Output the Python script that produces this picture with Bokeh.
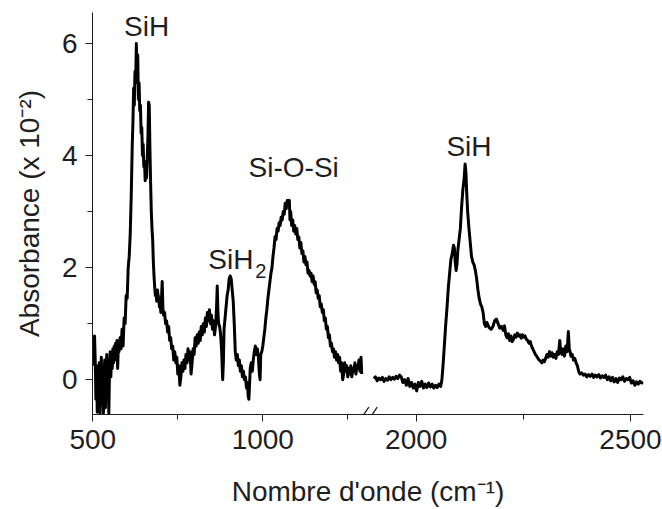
from bokeh.plotting import figure
from bokeh.models import Range1d, FixedTicker, Label, PolyAnnotation
from bokeh.embed import file_html
from bokeh.resources import INLINE

# ---------------- data ----------------
left_wn = [503, 505, 507, 509, 511, 513, 515, 517, 519, 521, 523, 525, 527, 529, 531, 533, 535, 537, 539, 541,
           543, 545, 547, 549, 551, 553, 555, 557, 559, 561, 563, 565, 567, 569, 571, 573, 575, 577, 580, 583,
           586, 589, 592, 595, 598, 601, 604, 607, 610, 613, 616, 618, 620, 622, 624, 626, 628, 630, 632, 634,
           636, 638, 640, 642, 644, 646, 648, 650, 652, 654, 656, 658, 660, 662, 664, 666, 668, 670, 672, 674,
           676, 678, 680, 682, 684, 686, 688, 690, 692, 694, 696, 698, 700, 702, 704, 706, 708, 711, 714, 717,
           720, 723, 726, 729, 732, 735, 738, 741, 744, 747, 750, 753, 756, 759, 762, 765, 768, 771, 774, 777,
           780, 783, 786, 789, 792, 795, 798, 801, 804, 807, 810, 813, 816, 819, 822, 825, 828, 831, 834, 837,
           840, 843, 846, 849, 852, 855, 858, 861, 864, 866, 868, 870, 873, 876, 879, 882, 884, 886, 889, 892,
           895, 898, 901, 904, 907, 910, 913, 916, 919, 922, 925, 928, 931, 934, 937, 940, 943, 946, 949, 952,
           955, 957, 959, 961, 963, 966, 969, 972, 975, 978, 981, 984, 987, 990, 992, 994, 997, 1000, 1003, 1006,
           1009, 1012, 1015, 1018, 1021, 1024, 1027, 1030, 1033, 1036, 1039, 1042, 1045, 1048, 1051, 1054, 1057, 1060, 1063, 1066,
           1069, 1072, 1075, 1078, 1080, 1082, 1085, 1088, 1091, 1094, 1097, 1100, 1103, 1106, 1109, 1112, 1115, 1118, 1121, 1124,
           1127, 1130, 1133, 1136, 1139, 1142, 1145, 1148, 1151, 1154, 1157, 1160, 1163, 1166, 1169, 1172, 1175, 1178, 1181, 1184,
           1187, 1190, 1193, 1196, 1199, 1202, 1205, 1208, 1211, 1214, 1217, 1220, 1223, 1226, 1229, 1232, 1235, 1238, 1241, 1244,
           1247, 1250, 1253, 1256, 1259, 1262, 1265, 1268, 1271, 1274, 1277, 1280, 1283, 1286, 1289, 1291]
left_abs = [0.25, 0.78, 0.35, -0.35, 0.15, -0.58, 0.25, -0.3, 0.3, -0.6, 0.05, 0.4, -0.45, 0.2, -0.6, 0.1, 0.35, -0.5, 0.05, 0.45,
            -0.15, 0.3, -0.6, 0.15, 0.5, 0.05, 0.45, 0.2, 0.55, 0.3, 0.6, 0.35, 0.65, 0.45, 0.7, 0.2, 0.6, 0.5, 0.75, 0.55,
            0.9, 0.6, 1.1, 1.0, 1.5, 1.45, 2.0, 2.2, 2.6, 3.3, 4.2, 4.6, 5.2, 4.9, 5.5, 5.3, 6.0, 5.4, 5.8, 5.0,
            5.3, 4.8, 4.9, 4.4, 4.5, 4.0, 4.2, 3.8, 3.9, 3.55, 3.8, 3.6, 3.95, 4.3, 4.95, 4.9, 4.1, 3.5, 3.0, 2.7,
            2.5, 2.1, 1.85, 1.65, 1.5, 1.55, 1.4, 1.6, 1.5, 1.45, 1.3, 1.35, 1.2, 1.45, 1.75, 1.3, 1.15, 1.2, 1.0, 1.05,
            0.85, 0.95, 0.7, 0.75, 0.55, 0.6, 0.35, 0.5, 0.3, 0.4, 0.1, 0.25, -0.1, 0.05, 0.3, 0.15, 0.35, 0.2, 0.45, 0.3,
            0.55, 0.35, 0.5, 0.1, 0.3, 0.55, 0.45, 0.75, 0.6, 0.8, 0.65, 0.85, 0.7, 0.95, 0.8, 1.0, 0.85, 1.1, 0.95, 1.2,
            1.05, 1.25, 1.0, 1.15, 0.9, 1.05, 0.8, 0.95, 1.3, 1.67, 1.2, 1.0, 0.95, 0.8, 0.5, 0.0, 0.3, 0.9, 1.1, 1.3,
            1.5, 1.6, 1.8, 1.85, 1.8, 1.6, 1.4, 1.0, 0.5, 0.35, 0.45, 0.25, 0.35, 0.15, 0.25, 0.05, 0.15, 0.0, 0.05, -0.15,
            -0.05, -0.3, -0.35, -0.1, 0.2, 0.3, 0.15, 0.35, 0.5, 0.6, 0.45, 0.55, 0.4, 0.1, 0.0, 0.45, 0.5, 0.6, 0.75, 0.9,
            1.1, 1.25, 1.45, 1.6, 1.75, 1.9, 2.0, 2.2, 2.35, 2.55, 2.5, 2.7, 2.65, 2.8, 2.75, 2.9, 2.85, 3.0, 2.95, 3.15,
            3.05, 3.2, 3.15, 3.2, 2.85, 3.0, 2.75, 2.85, 2.65, 2.75, 2.6, 2.7, 2.5, 2.55, 2.35, 2.45, 2.25, 2.3, 2.1, 2.2,
            2.05, 2.1, 1.9, 1.95, 1.85, 1.9, 1.75, 1.85, 1.7, 1.75, 1.55, 1.6, 1.45, 1.5, 1.3, 1.35, 1.2, 1.25, 1.05, 1.1,
            0.9, 0.95, 0.75, 0.8, 0.6, 0.65, 0.5, 0.55, 0.4, 0.5, 0.35, 0.45, 0.3, 0.4, 0.15, 0.3, 0.0, 0.1, 0.3, 0.15,
            0.25, 0.05, 0.2, 0.1, 0.25, 0.05, 0.2, 0.15, 0.3, 0.1, 0.25, 0.2, 0.35, 0.15, 0.4, 0.1]

right_wn = [1901, 1905, 1909, 1913, 1917, 1921, 1925, 1929, 1933, 1937, 1941, 1945, 1949, 1953, 1957, 1961, 1965, 1969, 1973, 1977,
            1981, 1985, 1989, 1993, 1997, 2001, 2005, 2009, 2013, 2017, 2021, 2025, 2029, 2033, 2037, 2041, 2045, 2049, 2053, 2057,
            2060, 2063, 2066, 2069, 2072, 2075, 2078, 2081, 2084, 2087, 2089, 2091, 2093, 2095, 2097, 2100, 2103, 2106, 2109, 2112,
            2114, 2116, 2118, 2120, 2123, 2126, 2129, 2132, 2135, 2138, 2141, 2144, 2147, 2150, 2153, 2156, 2159, 2162, 2165, 2170,
            2175, 2179, 2183, 2187, 2191, 2195, 2199, 2203, 2206, 2209, 2212, 2215, 2218, 2221, 2224, 2227, 2230, 2233, 2236, 2239,
            2242, 2245, 2248, 2251, 2254, 2257, 2260, 2263, 2266, 2269, 2272, 2275, 2278, 2281, 2284, 2287, 2290, 2293, 2296, 2299,
            2302, 2305, 2308, 2311, 2314, 2317, 2320, 2323, 2326, 2329, 2332, 2335, 2337, 2340, 2343, 2346, 2349, 2352, 2355, 2357,
            2359, 2361, 2364, 2367, 2370, 2373, 2376, 2379, 2382, 2386, 2390, 2394, 2398, 2402, 2406, 2410, 2414, 2418, 2422, 2426,
            2430, 2434, 2438, 2442, 2446, 2450, 2454, 2458, 2462, 2466, 2470, 2474, 2478, 2482, 2486, 2490, 2494, 2498, 2502, 2506,
            2510, 2514, 2518, 2522, 2526, 2529]
right_abs = [0.02, 0.05, -0.02, 0.03, 0.0, 0.04, -0.03, 0.02, -0.01, 0.05, 0.0, 0.04, 0.01, 0.06, 0.02, 0.08, 0.05, -0.05, 0.0, -0.1,
             0.02, -0.12, -0.05, -0.15, -0.08, -0.2, -0.05, -0.12, -0.03, -0.15, -0.08, -0.14, -0.06, -0.13, -0.08, -0.15, -0.1, -0.14, -0.08, -0.12,
             0.0, 0.3, 0.65, 1.0, 1.3, 1.65, 1.9, 2.15, 2.25, 2.4, 2.35, 2.1, 1.95, 2.05, 2.3, 2.5, 2.7, 3.1, 3.4, 3.6,
             3.85, 3.7, 3.3, 3.0, 2.7, 2.45, 2.2, 2.1, 2.05, 1.95, 1.8, 1.6, 1.45, 1.35, 1.3, 1.2, 1.0, 0.95, 1.02, 0.93,
             0.9, 0.95, 1.05, 1.08, 1.0, 0.92, 0.95, 0.88, 0.96, 0.8, 0.75, 0.82, 0.7, 0.78, 0.68, 0.72, 0.8, 0.76, 0.83, 0.78,
             0.8, 0.74, 0.8, 0.76, 0.78, 0.72, 0.7, 0.65, 0.68, 0.6, 0.55, 0.5, 0.45, 0.42, 0.38, 0.35, 0.33, 0.3, 0.35, 0.32,
             0.38, 0.45, 0.4, 0.5, 0.42, 0.48, 0.4, 0.45, 0.38, 0.5, 0.45, 0.7, 0.5, 0.45, 0.55, 0.42, 0.6, 0.5, 0.86, 0.55,
             0.5, 0.42, 0.45, 0.35, 0.38, 0.3, 0.25, 0.15, 0.1, 0.12, 0.08, 0.1, 0.05, 0.09, 0.06, 0.1, 0.04, 0.08, 0.05, 0.09,
             0.03, 0.07, 0.04, 0.08, 0.0, 0.05, -0.02, 0.04, -0.04, 0.02, -0.05, 0.03, 0.0, 0.05, -0.03, 0.02, 0.0, 0.04, -0.06, -0.02,
             -0.1, -0.04, -0.08, -0.03, -0.06, -0.04]

x_major_left = [500, 1000]
x_minor_left = [750, 1250]
x_major_right = [2000, 2500]
x_minor_right = [2250]
y_major = [0, 2, 4, 6]
y_minor = [1, 3, 5]

peak_text = ["SiH", "SiH", "Si-O-Si", "SiH"]
peak_wn = [658, 906, 1091, 2123]
peak_abs = [6.30, 2.15, 3.78, 4.16]
peak_segment = ["left", "left", "left", "right"]
sub_text = "2"
sub_wn = 978
sub_abs = 1.94

# ---------------- layout ----------------
FONT = "Liberation Sans"
INK = "#1e1e1e"
LEFT_RANGE = (499.0, 2120.0)       # main (left segment) scale across frame
RIGHT_RANGE = (1244.7, 2530.3)     # right segment scale across the same frame
Y_RANGE = (-0.622, 6.554)
FRAME_LEFT, FRAME_W, FRAME_H = 92, 551, 404


def to_main(x):
    """map a right-segment wavenumber onto main-range units (same pixel)."""
    a0, a1 = LEFT_RANGE
    r0, r1 = RIGHT_RANGE
    return round(a0 + (x - r0) * (a1 - a0) / (r1 - r0), 3)


p = figure(width=662, height=509,
           x_range=Range1d(*LEFT_RANGE), y_range=Range1d(*Y_RANGE),
           output_backend="svg", toolbar_location=None,
           min_border_left=FRAME_LEFT, min_border_right=662 - FRAME_LEFT - FRAME_W,
           min_border_top=12, min_border_bottom=509 - 12 - FRAME_H)
p.extra_x_ranges = {"right": Range1d(*RIGHT_RANGE)}
p.outline_line_color = None
p.xgrid.visible = False
p.ygrid.visible = False
p.background_fill_color = "white"
p.border_fill_color = "white"

p.line(left_wn, left_abs, line_width=3, line_color="black", line_join="round")
p.line(right_wn, right_abs, line_width=3, line_color="black", line_join="round", x_range_name="right")

# x axis ticks (broken axis)
major_ticks = x_major_left + [to_main(v) for v in x_major_right]
minor_ticks = x_minor_left + [to_main(v) for v in x_minor_right]
p.xaxis.ticker = FixedTicker(ticks=major_ticks, minor_ticks=minor_ticks)
overrides = {v: str(v) for v in x_major_left}
overrides.update({to_main(v): str(v) for v in x_major_right})
p.xaxis.major_label_overrides = overrides
p.yaxis.ticker = FixedTicker(ticks=y_major, minor_ticks=y_minor)

p.xaxis.axis_label = "Nombre d'onde (cm\u207b\u00b9)"
p.yaxis.axis_label = "Absorbance (x 10\u207b\u00b2)"

for ax in (p.xaxis[0], p.yaxis[0]):
    ax.axis_line_color = INK
    ax.axis_line_width = 1
    ax.major_tick_line_color = INK
    ax.minor_tick_line_color = INK
    ax.major_tick_in = 0
    ax.minor_tick_in = 0
    ax.major_tick_out = 7
    ax.minor_tick_out = 5
    ax.major_label_text_font = FONT
    ax.major_label_text_font_size = "28px"
    ax.major_label_text_color = INK
    ax.axis_label_text_font = FONT
    ax.axis_label_text_font_size = "28px"
    ax.axis_label_text_font_style = "normal"
    ax.axis_label_text_color = INK
p.yaxis.major_label_standoff = 8
p.yaxis.axis_label_standoff = 14
p.xaxis.major_label_standoff = 8
p.xaxis.axis_label_standoff = 24

# break marks "//" on the x axis (drawn as unfilled 2-point polygons so they can cross the axis)
brk_px = [363.3, 371.7]
units_per_px = (LEFT_RANGE[1] - LEFT_RANGE[0]) / FRAME_W
dy = 7.5 * (Y_RANGE[1] - Y_RANGE[0]) / FRAME_H
for bp in brk_px:
    xc = LEFT_RANGE[0] + (bp - FRAME_LEFT) * units_per_px
    p.add_layout(PolyAnnotation(xs=[xc - 5 * units_per_px, xc + 5 * units_per_px],
                                ys=[Y_RANGE[0] - dy, Y_RANGE[0] + dy],
                                fill_alpha=0, line_alpha=1.0, line_color=INK, line_width=1.3))

# peak labels
for t, xv, yv, seg in zip(peak_text, peak_wn, peak_abs, peak_segment):
    kw = {"x_range_name": "right"} if seg == "right" else {}
    p.add_layout(Label(x=xv, y=yv, text=t, text_font=FONT, text_font_size="28px",
                       text_color=INK, text_align="center", text_baseline="alphabetic", **kw))
p.add_layout(Label(x=sub_wn, y=sub_abs, text=sub_text, text_font=FONT, text_font_size="20px",
                   text_color=INK, text_align="left", text_baseline="alphabetic"))

open("out.html", "w").write(file_html(p, INLINE))
